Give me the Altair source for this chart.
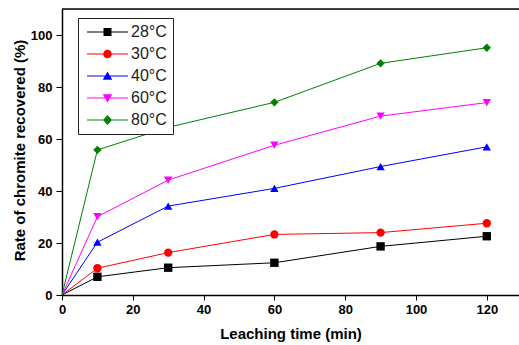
import altair as alt
import pandas as pd

times = [0, 10, 30, 60, 90, 120]
series_names = ["28°C", "30°C", "40°C", "60°C", "80°C"]
t28 = [0, 7.0, 10.5, 12.4, 18.7, 22.6]
t30 = [0, 10.3, 16.3, 23.3, 24.0, 27.6]
t40 = [0, 20.3, 34.2, 41.0, 49.4, 57.0]
t60 = [0, 30.1, 44.2, 57.6, 68.8, 74.0]
t80 = [0, 55.8, 64.5, 74.1, 89.1, 95.1]
colors = ["#000000", "#FF0000", "#0000FF", "#FF00FF", "#008000"]
shapes = ["square", "circle", "triangle-up", "triangle-down", "diamond"]
# legend symbols: a thin horizontal bar (the line) plus the marker, both filled
LINE = "M-4.1,-0.1H4.1V0.1H-4.1Z"
legend_paths = [
    LINE + "M-0.8,-0.8H0.8V0.8H-0.8Z",
    LINE + "M0.85,0A0.85,0.85 0 1,1 -0.85,0A0.85,0.85 0 1,1 0.85,0Z",
    LINE + "M0,-0.9L0.95,0.75H-0.95Z",
    LINE + "M0,0.9L-0.95,-0.75H0.95Z",
    LINE + "M0,-1L0.9,0L0,1L-0.9,0Z",
]

rows = []
for name, vals in zip(series_names, [t28, t30, t40, t60, t80]):
    for t, v in zip(times, vals):
        rows.append({"time": t, "rate": v, "series": name})
df = pd.DataFrame(rows)

FONT = "Liberation Sans"
X_MAX = 129.1
Y_MAX = 110
xscale = alt.Scale(domain=[0, X_MAX], nice=False, zero=False)
yscale = alt.Scale(domain=[0, Y_MAX], nice=False)
cscale = alt.Scale(domain=series_names, range=colors)

x_main = alt.X("time:Q", scale=xscale, axis=alt.Axis(
    values=list(range(0, 130, 10)), title="Leaching time (min)",
    labelExpr="datum.value % 20 === 0 ? datum.label : ''",
    tickSize={"condition": {"test": "datum.value % 20 === 0", "value": 5}, "value": 3},
    titleFontSize=15, titleFont=FONT, titleFontWeight="bold", titlePadding=10,
    labelFont=FONT, labelFontSize=13, labelFontWeight="bold", labelColor="black",
    tickColor="black", domainColor="black", domainWidth=1.5,
    grid=False, labelPadding=3, labelFlush=False))
y_main = alt.Y("rate:Q", scale=yscale, axis=alt.Axis(
    values=list(range(0, 110, 10)), title="Rate of chromite recovered (%)",
    labelExpr="datum.value % 20 === 0 ? datum.label : ''",
    tickSize={"condition": {"test": "datum.value % 20 === 0", "value": 6}, "value": 3},
    titleFontSize=15, titleFont=FONT, titleFontWeight="bold", titlePadding=3,
    titleY=141,
    labelFont=FONT, labelFontSize=13, labelFontWeight="bold", labelColor="black",
    tickColor="black", domainColor="black", domainWidth=1.5,
    grid=False, labelPadding=4, labelFlush=False))

layers = []
for i, (name, col, shp) in enumerate(zip(series_names, colors, shapes)):
    base = alt.Chart(df).transform_filter(alt.datum.series == name)
    layers.append(
        base.mark_line(strokeWidth=1, color=col).encode(
            x=x_main if i == 0 else alt.X("time:Q", scale=xscale),
            y=y_main if i == 0 else alt.Y("rate:Q", scale=yscale),
        )
    )
for name, col, shp in zip(series_names, colors, shapes):
    layers.append(
        alt.Chart(df).transform_filter(
            (alt.datum.series == name) & (alt.datum.time > 0)
        ).mark_point(filled=True, size=70, opacity=1, shape=shp, color=col).encode(
            x=alt.X("time:Q", scale=xscale),
            y=alt.Y("rate:Q", scale=yscale),
        )
    )

leg = alt.Legend(
    title=None, orient="none", legendX=16, legendY=9, padding=6,
    strokeColor="#222222", fillColor="white",
    labelFont=FONT, labelFontSize=16, labelColor="#222222",
    symbolSize=100, symbolOffset=15.5, labelOffset=15.5, rowPadding=6,
    symbolStrokeWidth=0, symbolOpacity=1,
)
legend_layer = alt.Chart(df).mark_point(filled=True, opacity=0).encode(
    x=alt.X("time:Q", scale=xscale),
    y=alt.Y("rate:Q", scale=yscale),
    color=alt.Color("series:N", scale=cscale, legend=leg),
    shape=alt.Shape("series:N", scale=alt.Scale(domain=series_names, range=legend_paths), legend=leg),
)
layers.append(legend_layer)

frame = pd.DataFrame({"x0": [0], "x1": [X_MAX], "ytop": [Y_MAX]})
top_border = alt.Chart(frame).mark_rule(color="black", strokeWidth=1.5).encode(
    x=alt.X("x0:Q", scale=xscale),
    x2="x1:Q",
    y=alt.Y("ytop:Q", scale=yscale),
)
layers.append(top_border)

chart = alt.layer(*layers).properties(
    width=457, height=286,
    autosize=alt.AutoSizeParams(type="none"),
    padding={"left": 62, "top": 9, "right": 0, "bottom": 50},
).configure_view(stroke=None).configure(background="white")

chart.save("out.html", embed_options={"renderer": "svg", "actions": False})
